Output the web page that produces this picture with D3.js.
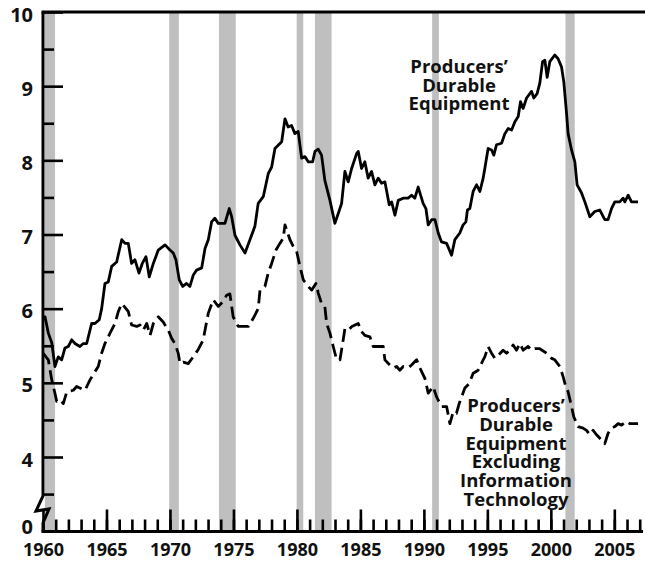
<!DOCTYPE html>
<html>
<head>
<meta charset="utf-8">
<script src="https://cdn.jsdelivr.net/npm/d3@7"></script>
<style>
html,body{margin:0;padding:0;background:#fff;}
svg{display:block;}
text{font-family:"Open Sans",sans-serif;font-weight:700;fill:#111;}
</style>
</head>
<body>
<svg id="chart" width="645" height="562"></svg>
<script>
// ---------------- DATA ----------------
const pdeYears = [1960.0,1960.16,1960.42,1960.69,1960.94,1961.20,1961.47,1961.73,1961.99,1962.26,1962.52,1962.91,1963.17,1963.44,1963.83,1964.09,1964.43,1964.62,1964.88,1965.14,1965.41,1965.80,1966.20,1966.46,1966.72,1966.98,1967.24,1967.56,1967.82,1968.11,1968.37,1968.69,1969.08,1969.61,1970.00,1970.26,1970.47,1970.73,1971.00,1971.31,1971.57,1971.83,1972.10,1972.50,1972.76,1973.02,1973.28,1973.54,1973.80,1974.33,1974.67,1974.86,1975.12,1975.51,1975.91,1976.30,1976.69,1976.95,1977.35,1977.74,1978.01,1978.27,1978.80,1979.06,1979.31,1979.58,1979.84,1980.10,1980.37,1980.63,1980.89,1981.24,1981.42,1981.68,1981.94,1982.20,1982.60,1982.99,1983.25,1983.52,1983.78,1984.04,1984.31,1984.70,1984.83,1985.09,1985.35,1985.61,1985.88,1986.14,1986.40,1986.67,1986.93,1987.27,1987.46,1987.72,1987.98,1988.37,1988.76,1989.03,1989.29,1989.55,1989.94,1990.16,1990.34,1990.61,1990.87,1991.13,1991.39,1991.79,1992.18,1992.44,1992.83,1993.09,1993.31,1993.43,1993.62,1993.88,1994.15,1994.41,1994.67,1994.80,1995.06,1995.33,1995.51,1995.72,1996.12,1996.38,1996.64,1996.91,1997.17,1997.43,1997.61,1997.82,1998.09,1998.48,1998.66,1998.92,1999.13,1999.35,1999.53,1999.71,1999.92,2000.31,2000.57,2000.84,2001.02,2001.24,2001.36,2001.63,2001.89,2002.07,2002.42,2002.68,2003.07,2003.46,2003.86,2004.25,2004.51,2004.78,2005.04,2005.43,2005.69,2005.83,2006.09,2006.35,2006.87];
const pdeValues = [5.85,5.89,5.67,5.54,5.22,5.35,5.31,5.47,5.49,5.58,5.53,5.49,5.53,5.53,5.80,5.80,5.85,6.00,6.34,6.36,6.57,6.63,6.93,6.88,6.88,6.61,6.66,6.48,6.61,6.70,6.43,6.61,6.79,6.86,6.79,6.75,6.66,6.39,6.30,6.34,6.30,6.45,6.52,6.55,6.81,6.93,7.17,7.22,7.15,7.15,7.35,7.24,6.99,6.86,6.75,6.93,7.11,7.42,7.51,7.82,7.91,8.16,8.25,8.56,8.45,8.47,8.36,8.39,8.03,8.05,7.98,7.98,8.12,8.15,8.07,7.73,7.46,7.15,7.28,7.42,7.85,7.71,7.89,8.09,8.12,7.89,7.98,7.76,7.85,7.67,7.76,7.69,7.71,7.40,7.44,7.26,7.46,7.49,7.49,7.53,7.49,7.64,7.42,7.35,7.13,7.20,7.20,7.02,6.90,6.88,6.72,6.93,7.02,7.13,7.17,7.33,7.35,7.58,7.67,7.58,7.76,7.89,8.16,8.14,8.07,8.21,8.23,8.36,8.43,8.41,8.52,8.59,8.79,8.70,8.84,8.93,8.84,8.90,9.04,9.33,9.35,9.12,9.33,9.42,9.37,9.26,9.06,8.63,8.36,8.14,7.98,7.67,7.56,7.44,7.24,7.31,7.33,7.20,7.20,7.35,7.44,7.44,7.49,7.44,7.53,7.44,7.44];

const exItYears = [1960.0,1960.42,1960.69,1960.94,1961.08,1961.34,1961.60,1961.87,1962.39,1962.65,1963.31,1963.70,1964.35,1964.62,1964.88,1965.28,1965.67,1965.93,1966.20,1966.54,1966.72,1966.98,1967.38,1967.64,1967.90,1968.17,1968.43,1968.69,1969.08,1969.47,1969.87,1970.13,1970.39,1970.65,1970.79,1971.05,1971.44,1971.83,1972.23,1972.62,1972.76,1973.02,1973.41,1973.80,1974.20,1974.46,1974.72,1974.98,1975.38,1975.77,1976.17,1976.56,1976.95,1977.09,1977.48,1977.74,1978.01,1978.35,1978.66,1978.92,1979.06,1979.45,1979.71,1979.98,1980.24,1980.50,1980.89,1981.16,1981.50,1981.68,1981.94,1982.20,1982.34,1982.60,1982.86,1983.13,1983.39,1983.60,1983.78,1984.04,1984.33,1984.83,1985.09,1985.35,1985.75,1986.01,1986.40,1986.80,1986.93,1987.32,1987.58,1987.85,1988.11,1988.37,1988.76,1989.03,1989.43,1989.69,1990.08,1990.34,1990.73,1991.00,1991.39,1991.79,1992.05,1992.31,1992.57,1992.78,1993.23,1993.57,1993.88,1994.28,1994.67,1994.80,1995.06,1995.33,1995.59,1995.85,1996.24,1996.51,1996.77,1997.03,1997.30,1997.56,1997.82,1998.21,1998.48,1998.74,1999.13,1999.66,2000.06,2000.31,2000.71,2000.97,2001.18,2001.36,2001.63,2001.81,2002.15,2002.54,2002.81,2003.07,2003.33,2003.60,2003.99,2004.25,2004.51,2004.78,2005.04,2005.30,2005.57,2005.96,2006.22,2006.87];
const exItValues = [5.40,5.31,5.04,4.86,4.75,4.77,4.72,4.88,4.90,4.95,4.90,5.04,5.22,5.40,5.53,5.67,5.80,5.96,6.07,6.00,5.96,5.78,5.76,5.78,5.71,5.80,5.64,5.80,5.89,5.82,5.71,5.60,5.53,5.40,5.26,5.28,5.26,5.35,5.45,5.58,5.71,5.94,6.12,6.03,6.10,6.18,6.20,5.89,5.76,5.76,5.76,5.87,6.00,6.25,6.30,6.48,6.61,6.79,6.88,6.95,7.13,6.93,6.84,6.77,6.57,6.39,6.30,6.25,6.34,6.21,6.07,6.03,5.80,5.67,5.49,5.31,5.31,5.53,5.73,5.71,5.76,5.80,5.69,5.64,5.62,5.49,5.49,5.49,5.31,5.24,5.20,5.22,5.17,5.22,5.20,5.24,5.31,5.20,5.06,4.86,4.95,4.81,4.68,4.68,4.45,4.61,4.59,4.72,4.93,4.99,5.13,5.17,5.31,5.35,5.49,5.40,5.33,5.37,5.44,5.40,5.44,5.51,5.44,5.53,5.44,5.49,5.44,5.46,5.46,5.40,5.33,5.31,5.22,5.08,4.95,4.88,4.68,4.54,4.41,4.39,4.36,4.30,4.36,4.30,4.23,4.18,4.32,4.39,4.41,4.45,4.43,4.48,4.45,4.45];

const recessionStarts = [1960.15,1969.94,1973.86,1979.98,1981.42,1990.65,2001.15];
const recessionEnds   = [1960.95,1970.70,1975.18,1980.50,1982.73,1991.18,2001.88];

const yMajorTicks = [4,5,6,7,8,9,10];
const yMinorTicks = [3.5,4.5,5.5,6.5,7.5,8.5,9.5];
const xLabelYears = [1960,1965,1970,1975,1980,1985,1990,1995,2000,2005];
const xMinorYears = d3.range(1960,2008);

const labelTop = ["Producers\u2019","Durable","Equipment"];
const labelBottom = ["Producers\u2019","Durable","Equipment","Excluding","Information","Technology"];

// ---------------- LAYOUT ----------------
const svg = d3.select("#chart");
const W = 645, H = 562;
const axisX = 43, axisY = 531.5, topY = 12;
const x = d3.scaleLinear().domain([1960, 2008]).range([43, 43 + 48*12.696]);
const y = d3.scaleLinear().domain([4, 10]).range([457, 12]);

svg.append("rect").attr("width", W).attr("height", H).attr("fill", "#fff");

// recession bars
svg.append("g").selectAll("rect")
  .data(recessionStarts.map((s,i)=>({s, e: recessionEnds[i]})))
  .join("rect")
  .attr("x", d => x(d.s))
  .attr("width", d => x(d.e) - x(d.s))
  .attr("y", topY)
  .attr("height", axisY - topY)
  .attr("fill", "#bfbfbf");

// lines
const pdeData = pdeYears.map((t,i)=>[t, pdeValues[i]]);
const exData = exItYears.map((t,i)=>[t, exItValues[i]]);
const line = d3.line().x(d => x(d[0])).y(d => y(d[1]));

svg.append("path").datum(exData)
  .attr("d", line).attr("fill","none").attr("stroke","#000")
  .attr("stroke-width", 2.8).attr("stroke-dasharray","13,6")
  .attr("stroke-linejoin","round");

svg.append("path").datum(pdeData)
  .attr("d", line).attr("fill","none").attr("stroke","#000")
  .attr("stroke-width", 2.8).attr("stroke-linejoin","round");

// x axis ticks
const gxMinor = svg.append("g").attr("transform", `translate(0,${axisY})`)
  .call(d3.axisBottom(x).tickValues(xMinorYears).tickSize(-12).tickFormat(""));
const gxMajor = svg.append("g").attr("transform", `translate(0,${axisY})`)
  .call(d3.axisBottom(x).tickValues(xLabelYears).tickSize(-22).tickPadding(12).tickFormat(d3.format("d")));
[gxMinor, gxMajor].forEach(g => {
  g.select(".domain").remove();
  g.selectAll(".tick line").attr("stroke","#000").attr("stroke-width",2.6);
});
gxMajor.selectAll(".tick text")
  .attr("font-family","'Open Sans',sans-serif").attr("font-weight",700)
  .attr("font-size",18).attr("fill","#111");

// y axis ticks
const gyMinor = svg.append("g").attr("transform", `translate(${axisX},0)`)
  .call(d3.axisLeft(y).tickValues(yMinorTicks).tickSize(-11).tickFormat(""));
const gyMajor = svg.append("g").attr("transform", `translate(${axisX},0)`)
  .call(d3.axisLeft(y).tickValues(yMajorTicks).tickSize(-20).tickPadding(10).tickFormat(d3.format("d")));
[gyMinor, gyMajor].forEach(g => {
  g.select(".domain").remove();
  g.selectAll(".tick line").attr("stroke","#000").attr("stroke-width",2.6);
});
gyMajor.selectAll(".tick text")
  .attr("font-family","'Open Sans',sans-serif").attr("font-weight",700)
  .attr("font-size",20).attr("fill","#111").attr("dy","0.45em");

// zero label
svg.append("text").attr("x", axisX - 10).attr("y", 525).attr("dy","0.45em")
  .attr("text-anchor","end").attr("font-size",20).text("0");

// axis lines
svg.append("path")
  .attr("d", `M${axisX},${topY} L${axisX},496 L36,511 L49,509 L${axisX},523 L${axisX},${axisY}`)
  .attr("fill","none").attr("stroke","#000").attr("stroke-width",3).attr("stroke-linejoin","miter");
svg.append("line").attr("x1", axisX-1.5).attr("x2", W).attr("y1", topY).attr("y2", topY)
  .attr("stroke","#000").attr("stroke-width",3);
svg.append("line").attr("x1", axisX-1.5).attr("x2", 643).attr("y1", axisY).attr("y2", axisY)
  .attr("stroke","#000").attr("stroke-width",3);

// series labels (tight leading, as in the original)
function block(lines, cx, baseline0, lh) {
  const t = svg.append("text").attr("text-anchor","middle").attr("font-size",18.5);
  lines.forEach((s,i) => t.append("tspan").attr("x", cx).attr("y", baseline0 + i*lh).text(s));
}
block(labelTop, 459, 73, 18.5);
block(labelBottom, 516, 412, 18.8);
</script>
</body>
</html>
